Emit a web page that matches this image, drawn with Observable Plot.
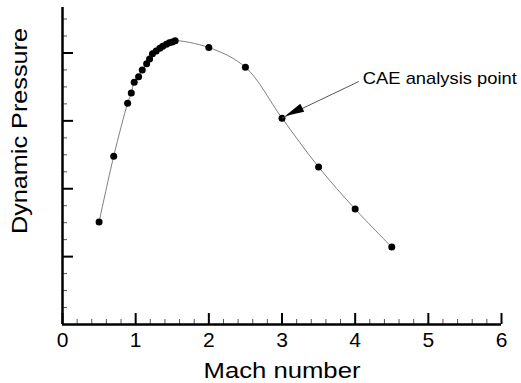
<!DOCTYPE html>
<html><head><meta charset="utf-8">
<script src="https://cdn.jsdelivr.net/npm/d3@7"></script>
<script src="https://cdn.jsdelivr.net/npm/@observablehq/plot@0.6"></script>
<style>
body{margin:0;background:#fff}
svg{font-family:"Liberation Sans",Arial,sans-serif}
</style>
</head><body><div id="chart"></div>
<script>
// Mach number and (unlabelled) dynamic pressure readings
const mach = [0.5,0.7,0.89,0.94,0.98,1.04,1.09,1.15,1.19,1.23,1.28,1.33,1.37,1.42,1.46,1.50,1.54,2.0,2.5,3.0,3.5,4.0,4.5];
const pressure = [1.51,2.48,3.26,3.41,3.57,3.65,3.75,3.84,3.91,3.99,4.03,4.07,4.10,4.13,4.15,4.16,4.18,4.08,3.79,3.04,2.32,1.70,1.14];
const xMajorTicks = [0,1,2,3,4,5,6];
const xMinorTicks = [0.2,0.4,0.6,0.8,1.2,1.4,1.6,1.8,2.2,2.4,2.6,2.8,3.2,3.4,3.6,3.8,4.2,4.4,4.6,4.8,5.2,5.4,5.6,5.8];
const yMajorTicks = [1,2,3,4];
const yMinorTicks = [0.25,0.5,0.75,1.25,1.5,1.75,2.25,2.5,2.75,3.25,3.5,3.75,4.25,4.5];
const annotationText = ["CAE analysis point"];
const annotationFrom = {x: 4.05, y: 3.58};   // arrow tail / label anchor
const annotationTo = {x: 3.0, y: 3.04};      // analysis point
const xLabel = "Mach number";
const yLabel = "Dynamic Pressure";

const data = mach.map((m, i) => ({mach: m, q: pressure[i]}));

const plot = Plot.plot({
  width: 521, height: 383,
  marginLeft: 62, marginRight: 20, marginTop: 7, marginBottom: 59,
  x: {domain: [0, 6], label: null},
  y: {domain: [0, 4.67], label: null},
  style: {fontFamily: "Liberation Sans, Arial, sans-serif", color: "#000", background: "#fff"},
  marks: [
    Plot.axisX({ticks: xMinorTicks, tickSize: -5, tickFormat: () => "", stroke: "#555", strokeWidth: 1, label: null}),
    Plot.axisX({ticks: xMajorTicks, tickSize: -11, tickPadding: 19, strokeWidth: 2, fontSize: 21, tickFormat: d => String(d), label: null}),
    Plot.axisY({ticks: yMinorTicks, tickSize: -5, tickFormat: () => "", stroke: "#555", strokeWidth: 1, label: null}),
    Plot.axisY({ticks: yMajorTicks, tickSize: -11, tickFormat: () => "", strokeWidth: 2, label: null}),
    Plot.ruleY([0], {strokeWidth: 2.5}),
    Plot.ruleX([0], {strokeWidth: 2.5}),
    Plot.line(data, {x: "mach", y: "q", curve: "catmull-rom", stroke: "#808080", strokeWidth: 1}),
    Plot.dot(data, {x: "mach", y: "q", r: 3.5, fill: "#000", stroke: null}),
    Plot.link([0], {x1: () => annotationFrom.x, y1: () => annotationFrom.y, x2: () => annotationTo.x, y2: () => annotationTo.y, stroke: "#555", strokeWidth: 1}),
    Plot.text(annotationText, {x: () => annotationFrom.x, y: () => annotationFrom.y, text: d => d, textAnchor: "start", lineAnchor: "middle", dx: 4, dy: -3, fontSize: 17, fill: "#000"}),
    Plot.text([xLabel], {frameAnchor: "bottom", text: d => d, lineAnchor: "bottom", dy: 53, fontSize: 22, fill: "#000"}),
    Plot.text([yLabel], {frameAnchor: "left", text: d => d, rotate: -90, textAnchor: "middle", lineAnchor: "bottom", dx: -36, dy: -35, fontSize: 21.5, fill: "#000"})
  ]
});

document.getElementById("chart").appendChild(plot);

// filled arrowhead at the analysis point, positioned through the plot's scales
const sx = plot.scale("x"), sy = plot.scale("y");
const tx = sx.apply(annotationFrom.x), ty = sy.apply(annotationFrom.y);
const px = sx.apply(annotationTo.x), py = sy.apply(annotationTo.y);
const L = Math.hypot(tx - px, ty - py);
const ux = (tx - px) / L, uy = (ty - py) / L;
const tipX = px + ux * 4, tipY = py + uy * 4;
const baseX = tipX + ux * 19, baseY = tipY + uy * 19;
const w = 4.5;
d3.select(plot).append("polygon")
  .attr("points", [[tipX, tipY], [baseX - uy * w, baseY + ux * w], [baseX + uy * w, baseY - ux * w]].map(p => p.join(",")).join(" "))
  .attr("fill", "#000");

// stretch the wide labels to the reference widths
const stretch = {"Mach number": 157, "Dynamic Pressure": 206, "CAE analysis point": 154};
d3.select(plot).selectAll("text").filter(function() { return stretch[this.textContent] != null; })
  .each(function() {
    d3.select(this).attr("textLength", stretch[this.textContent]).attr("lengthAdjust", "spacingAndGlyphs");
  });
</script>
</body></html>
